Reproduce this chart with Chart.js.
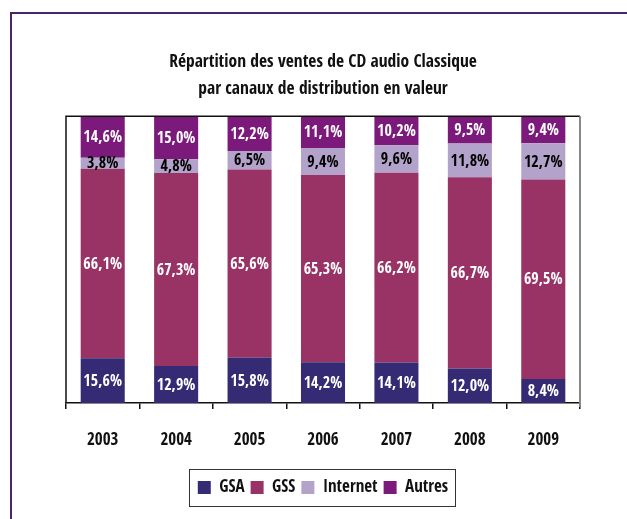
<!DOCTYPE html>
<html>
<head>
<meta charset="utf-8">
<script src="https://cdn.jsdelivr.net/npm/chart.js@4/dist/chart.umd.min.js"></script>
<style>
  body { margin: 0; background: #fff; }
  #frame { position: absolute; left: 10px; top: 12px; width: 640px; height: 530px; border: 2px solid #4b2466; box-sizing: border-box; }
  #wrap { position: absolute; left: 0; top: 0; width: 627px; height: 519px; }
</style>
</head>
<body>
<div id="frame"></div>
<div id="wrap"><canvas id="chart" width="627" height="519"></canvas></div>
<script>
const years = ['2003', '2004', '2005', '2006', '2007', '2008', '2009'];
const gsa = [15.6, 12.9, 15.8, 14.2, 14.1, 12.0, 8.4];
const gss = [66.1, 67.3, 65.6, 65.3, 66.2, 66.7, 69.5];
const internet = [3.8, 4.8, 6.5, 9.4, 9.6, 11.8, 12.7];
const autres = [14.6, 15.0, 12.2, 11.1, 10.2, 9.5, 9.4];

const FONT = "'Open Sans Condensed', 'Roboto Condensed', 'Liberation Sans Narrow', sans-serif";

// labels inside segments + frame lines
const barLabels = {
    id: 'barLabels',
    afterDatasetsDraw(chart) {
        const ctx = chart.ctx;
        ctx.save();
        ctx.font = 'bold 16px ' + FONT;
        ctx.textAlign = 'center';
        ctx.textBaseline = 'middle';
        chart.data.datasets.forEach((ds, i) => {
            chart.getDatasetMeta(i).data.forEach((bar, j) => {
                const top = Math.max(bar.y, chart.chartArea.top);
                const y = (top + bar.base) / 2;
                ctx.fillStyle = ds.labelColor;
                ctx.fillText(ds.data[j].toFixed(1).replace('.', ',') + '%', bar.x, y + 1);
            });
        });
        ctx.restore();
    },
    afterDraw(chart) {
        const ctx = chart.ctx;
        const a = chart.chartArea;
        ctx.save();
        ctx.lineWidth = 1.5;
        ctx.strokeStyle = '#111';
        ctx.beginPath();
        ctx.moveTo(a.left, a.bottom);
        ctx.lineTo(a.left, a.top);
        ctx.lineTo(a.right, a.top);
        ctx.stroke();
        ctx.strokeStyle = '#888';
        ctx.lineWidth = 2;
        ctx.beginPath();
        ctx.moveTo(a.right, a.top);
        ctx.lineTo(a.right, a.bottom + 4);
        ctx.stroke();
        // legend box
        const boxes = chart.legend.legendHitBoxes;
        if (boxes && boxes.length) {
            const l = Math.min(...boxes.map(b => b.left)) - 9;
            const r = Math.max(...boxes.map(b => b.left + b.width)) + 7;
            const t = boxes[0].top - 10;
            const h = boxes[0].height + 20;
            ctx.strokeStyle = '#333';
            ctx.lineWidth = 1;
            ctx.strokeRect(Math.round(l) + 0.5, Math.round(t) + 0.5, Math.round(r - l), Math.round(h));
        }
        ctx.restore();
    }
};

new Chart(document.getElementById('chart'), {
    type: 'bar',
    data: {
        labels: years,
        datasets: [
            { label: 'GSA', data: gsa, backgroundColor: '#352a74', labelColor: '#fff' },
            { label: 'GSS', data: gss, backgroundColor: '#993366', labelColor: '#fff' },
            { label: 'Internet', data: internet, backgroundColor: '#b3a2c9', labelColor: '#000' },
            { label: 'Autres', data: autres, backgroundColor: '#7b1a7b', labelColor: '#fff' }
        ]
    },
    options: {
        responsive: false,
        animation: false,
        devicePixelRatio: 1,
        layout: { padding: { left: 66, right: 47, top: 0, bottom: 13 } },
        datasets: { bar: { barPercentage: 0.6, categoryPercentage: 1 } },
        scales: {
            x: {
                stacked: true,
                grid: { drawOnChartArea: false, tickLength: 6, color: '#111', lineWidth: 1.5 },
                border: { color: '#111', width: 1.5 },
                ticks: { color: '#111', padding: 21, font: { family: FONT, size: 17, weight: 'bold' } },
                afterFit(scale) { scale.height = 70; }
            },
            y: { stacked: true, display: false, min: 0, max: 100 }
        },
        plugins: {
            title: {
                display: true,
                text: ['Répartition des ventes de CD audio Classique', 'par canaux de distribution en valeur'],
                color: '#111',
                font: { family: FONT, size: 17.5, weight: 'bold', lineHeight: 1.55 },
                padding: { top: 49, bottom: 13 }
            },
            legend: {
                position: 'bottom',
                labels: {
                    color: '#111',
                    boxWidth: 13,
                    boxHeight: 13,
                    padding: 6,
                    font: { family: FONT, size: 17, weight: 'bold' }
                }
            },
            tooltip: { enabled: false }
        }
    },
    plugins: [barLabels]
});
</script>
</body>
</html>
